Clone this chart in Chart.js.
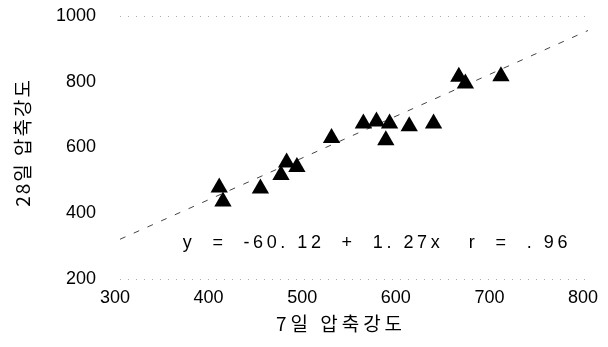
<!DOCTYPE html>
<html><head><meta charset="utf-8">
<script src="https://cdn.jsdelivr.net/npm/chart.js@4/dist/chart.umd.min.js"></script>
<style>html,body{margin:0;padding:0;background:#fff}</style>
</head><body>
<canvas id="c" width="608" height="347" style="display:block;width:608px;height:347px"></canvas>
<script>
// 7-day vs 28-day compressive strength
const day7  = [406, 410, 450, 472, 478, 489, 526, 560, 574, 588, 584, 609, 635, 662, 669, 707];
const day28 = [478, 436, 475, 516, 554, 541, 629, 673, 679, 673, 622, 665, 673, 815, 795, 817];
const regX = [300, 800];
const regY = [320.88, 955.88];
const xTicks = [300, 400, 500, 600, 700, 800];
const yTicks = [200, 400, 600, 800, 1000];
const xTitle = '7일 압축강도';
const yTitle = '28일 압축강도';
const equationText = 'y  =  -60. 12  +  1. 27x   r  =  . 96';

const points = day7.map((x, i) => ({x: x, y: day28[i]}));
const regLine = regX.map((x, i) => ({x: x, y: regY[i]}));

const titleStyle = {x: {dx: -13, dy: 0, ls: '4px'}, y: {dx: 0, dy: -5, ls: '2px'}};

const eqPlugin = {
  id: 'eq',
  beforeDraw(chart) {
    Object.values(chart.scales).forEach(s => {
      if (s._wrappedTitle) return;
      const orig = s.drawTitle.bind(s);
      const st = titleStyle[s.id] || {dx: 0, dy: 0, ls: '0px'};
      s.drawTitle = function () {
        const ctx = this.ctx;
        ctx.save();
        ctx.letterSpacing = st.ls;
        ctx.translate(st.dx, st.dy);
        orig();
        ctx.restore();
      };
      s._wrappedTitle = true;
    });
  },
  afterDatasetsDraw(chart) {
    const ctx = chart.ctx, xs = chart.scales.x, ys = chart.scales.y;
    ctx.save();
    ctx.font = '18px "Liberation Sans", Arial, sans-serif';
    ctx.fillStyle = '#000';
    ctx.textBaseline = 'middle';
    ctx.textAlign = 'left';
    const x0 = xs.getPixelForValue(367), x1 = xs.getPixelForValue(778);
    ctx.letterSpacing = '0px';
    const w = ctx.measureText(equationText).width;
    const ls = (x1 - x0 - w) / (equationText.length - 1);
    ctx.letterSpacing = ls + 'px';
    ctx.fillText(equationText, x0, ys.getPixelForValue(309));
    ctx.restore();
  }
};

const tickFont = {family: '"Liberation Sans", Arial, sans-serif', size: 18};
const titleFont = {family: '"Noto Sans CJK KR", sans-serif', size: 19};

new Chart(document.getElementById('c'), {
  type: 'scatter',
  data: {
    datasets: [
      {
        data: points, order: 0,
        pointStyle: 'triangle', pointRadius: 10, pointHoverRadius: 10,
        backgroundColor: '#000', borderColor: '#000', borderWidth: 0
      },
      {
        type: 'line', data: regLine, order: 1,
        borderColor: '#444', borderWidth: 1, borderDash: [6, 9],
        pointRadius: 0, fill: false, tension: 0
      }
    ]
  },
  options: {
    responsive: false, animation: false, devicePixelRatio: 1,
    layout: {autoPadding: false, padding: {top: 16, right: 20, bottom: 0, left: 0}},
    plugins: {legend: {display: false}, tooltip: {enabled: false}},
    scales: {
      x: {
        type: 'linear', min: 300, max: 800,
        afterBuildTicks: s => { s.ticks = xTicks.map(v => ({value: v})); },
        afterFit: s => { s.height = 68; s.paddingLeft = 0; s.paddingRight = 0; },
        grid: {display: false, drawTicks: false},
        border: {display: false},
        ticks: {color: '#000', padding: 8, labelOffset: -5, font: tickFont,
                callback: v => String(v)},
        title: {display: true, text: xTitle, color: '#000', font: titleFont,
                padding: {top: 0, bottom: 12}}
      },
      y: {
        type: 'linear', min: 200, max: 1000,
        afterBuildTicks: s => { s.ticks = yTicks.map(v => ({value: v})); },
        afterFit: s => { s.width = 120; s.paddingTop = 0; s.paddingBottom = 0; },
        grid: {drawTicks: false, lineWidth: 1,
               color: c => (c.tick && (c.tick.value === 200 || c.tick.value === 1000)) ? '#aaa' : 'rgba(0,0,0,0)'},
        border: {display: false, dash: [1, 7]},
        ticks: {color: '#000', padding: 24, font: tickFont, callback: v => String(v)},
        title: {display: true, text: yTitle, color: '#000', font: titleFont,
                padding: {top: 11, bottom: 0}}
      }
    }
  },
  plugins: [eqPlugin]
});
</script>
</body></html>
